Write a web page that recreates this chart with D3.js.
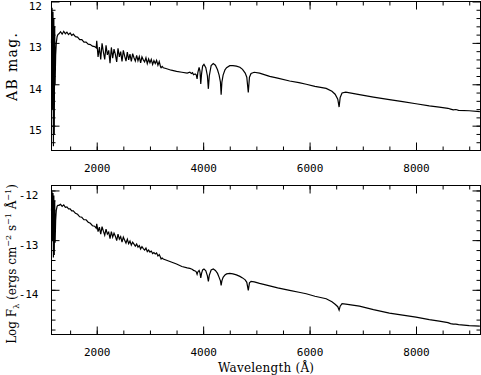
<!DOCTYPE html>
<html lang="en">
<head>
<meta charset="utf-8">
<title>Spectrum: AB mag and Log F_lambda</title>
<script src="https://d3js.org/d3.v7.min.js"></script>
<style>
  body { margin: 0; background: #fff; }
  svg { display: block; }
  .tick text { font-family: "DejaVu Sans Mono", monospace; font-size: 11px; fill: #000; }
  .tick line { stroke: #000; stroke-width: 1; }
  .title { font-family: "DejaVu Serif", serif; font-size: 12px; fill: #000; }
  .spec { fill: none; stroke: #000; stroke-width: 1.2; stroke-linejoin: miter; }
  .frame { fill: none; stroke: #000; stroke-width: 1; }
</style>
</head>
<body>
<svg id="chart" width="481" height="375"></svg>
<script>
// wavelength grid (Angstrom), shared by both panels
const wavelength = [
  1150, 1160, 1170, 1178, 1186, 1194, 1202, 1210, 1218, 1228, 1240, 1255, 1270,
  1290, 1320, 1350, 1380, 1410, 1440, 1470, 1500, 1530, 1560, 1600, 1640, 1680,
  1720, 1760, 1800, 1840, 1880, 1920, 1960, 1990,
  2000, 2025, 2050, 2075, 2100, 2125, 2150, 2175, 2200, 2225, 2250, 2275, 2300,
  2325, 2350, 2375, 2400, 2425, 2450, 2475, 2500, 2525, 2550, 2575, 2600, 2625,
  2650, 2675, 2700, 2725, 2750, 2775, 2800, 2825, 2850, 2875, 2900, 2925, 2950,
  2975, 3000, 3025, 3050, 3075, 3100, 3125, 3150, 3175, 3200,
  3210, 3230, 3250, 3300, 3400, 3500, 3600, 3700, 3750, 3780, 3800, 3820, 3850,
  3870, 3886, 3900, 3924, 3940, 3955, 3970, 3990, 4015, 4050, 4080, 4098, 4115,
  4150, 4190, 4230, 4270, 4300, 4325, 4338, 4352, 4375, 4410, 4440, 4500, 4560,
  4625, 4690, 4740, 4790, 4820, 4848, 4870, 4900, 4960, 5060,
  5250, 5400, 5625, 5800, 5937, 6100, 6312, 6420, 6480, 6530, 6555, 6575, 6610,
  6680, 6937, 7200, 7500, 7750, 8000, 8250, 8437, 8600, 8650, 8700, 8750, 8800,
  9000, 9200
];

// top panel: AB magnitude
const abMag = [
  13.00, 12.15, 14.60, 12.25, 15.50, 12.40, 15.20, 12.60, 14.00, 13.30, 13.00, 12.85, 12.80,
  12.78, 12.73, 12.79, 12.72, 12.78, 12.74, 12.80, 12.76, 12.82, 12.79, 12.85, 12.86, 12.92,
  12.92, 12.98, 12.98, 13.03, 13.04, 13.08, 13.09, 13.12,
  12.95, 13.34, 13.10, 13.40, 13.01, 13.22, 13.40, 13.06, 13.29, 13.18, 13.49, 13.11, 13.37,
  13.15, 13.28, 13.46, 13.13, 13.34, 13.21, 13.45, 13.18, 13.32, 13.44, 13.22, 13.41, 13.27,
  13.45, 13.26, 13.36, 13.44, 13.30, 13.43, 13.33, 13.48, 13.34, 13.41, 13.46, 13.36, 13.50,
  13.39, 13.48, 13.40, 13.52, 13.43, 13.50, 13.42, 13.54, 13.45, 13.58,
  13.60, 13.57, 13.60, 13.62, 13.66, 13.69, 13.71, 13.73, 13.71, 13.74, 13.72, 13.77, 13.75,
  13.77, 13.87, 13.72, 13.59, 13.68, 13.99, 13.75, 13.56, 13.52, 13.60, 13.80, 14.11, 13.80,
  13.55, 13.50, 13.54, 13.65, 13.78, 13.95, 14.25, 13.95, 13.78, 13.65, 13.60, 13.55, 13.55,
  13.56, 13.59, 13.64, 13.73, 13.83, 14.20, 13.83, 13.74, 13.71, 13.73,
  13.81, 13.85, 13.92, 13.96, 14.00, 14.05, 14.10, 14.17, 14.24, 14.36, 14.55, 14.32, 14.21,
  14.19, 14.25, 14.31, 14.37, 14.42, 14.47, 14.52, 14.55, 14.58, 14.60, 14.62, 14.61, 14.63,
  14.64, 14.66
];

// bottom panel: log F_lambda
const logFlux = [
  -12.41, -12.02, -13.00, -12.05, -13.35, -12.10, -13.30, -12.20, -13.05, -12.60, -12.40, -12.32, -12.30,
  -12.30, -12.28, -12.32, -12.29, -12.34, -12.33, -12.37, -12.37, -12.41, -12.41, -12.46, -12.48, -12.53,
  -12.54, -12.59, -12.59, -12.64, -12.66, -12.71, -12.72, -12.76,
  -12.67, -12.83, -12.74, -12.88, -12.73, -12.82, -12.90, -12.78, -12.88, -12.84, -12.97, -12.83, -12.94,
  -12.86, -12.92, -13.01, -12.88, -12.98, -12.93, -13.04, -12.94, -13.00, -13.06, -12.98, -13.07, -13.02,
  -13.10, -13.04, -13.08, -13.12, -13.08, -13.14, -13.11, -13.18, -13.13, -13.17, -13.20, -13.16, -13.23,
  -13.20, -13.24, -13.22, -13.27, -13.25, -13.28, -13.26, -13.32, -13.29, -13.35,
  -13.38, -13.36, -13.38, -13.40, -13.44, -13.48, -13.53, -13.56, -13.57, -13.58, -13.59, -13.61, -13.62,
  -13.64, -13.69, -13.64, -13.61, -13.66, -13.76, -13.67, -13.60, -13.58, -13.62, -13.72, -13.83, -13.71,
  -13.60, -13.58, -13.61, -13.67, -13.75, -13.82, -13.91, -13.82, -13.75, -13.70, -13.68, -13.67, -13.68,
  -13.70, -13.73, -13.76, -13.80, -13.85, -14.01, -13.86, -13.83, -13.84, -13.87,
  -13.92, -13.96, -14.01, -14.05, -14.08, -14.13, -14.18, -14.24, -14.29, -14.34, -14.41, -14.33, -14.28,
  -14.29, -14.33, -14.40, -14.47, -14.51, -14.55, -14.60, -14.63, -14.66, -14.68, -14.69, -14.69, -14.70,
  -14.72, -14.73
];

const xTicks = [2000, 4000, 6000, 8000];
const magTicks = [12, 13, 14, 15];
const fluxTicks = [-12, -13, -14];

const svg = d3.select("#chart");
const left = 51.5, right = 480.5;

const x = d3.scaleLinear().domain([1150, 9212]).range([left, right]);
const xMinor = d3.range(1500, 9201, 500);

function panel(cfg) {
  const y = d3.scaleLinear().domain(cfg.domain).range([cfg.top, cfg.bottom]);
  const g = svg.append("g");

  // minor ticks all round
  g.append("g").attr("transform", `translate(0,${cfg.bottom})`)
    .call(d3.axisBottom(x).tickValues(xMinor).tickSize(-4).tickFormat(""));
  g.append("g").attr("transform", `translate(0,${cfg.top})`)
    .call(d3.axisTop(x).tickValues(xMinor).tickSize(-4).tickFormat(""));
  g.append("g").attr("transform", `translate(${left},0)`)
    .call(d3.axisLeft(y).tickValues(cfg.minor).tickSize(-4).tickFormat(""));
  g.append("g").attr("transform", `translate(${right},0)`)
    .call(d3.axisRight(y).tickValues(cfg.minor).tickSize(-4).tickFormat(""));

  // major ticks
  g.append("g").attr("transform", `translate(0,${cfg.bottom})`)
    .call(d3.axisBottom(x).tickValues(xTicks).tickSize(-8).tickPadding(14).tickFormat(d3.format("d")));
  g.append("g").attr("transform", `translate(0,${cfg.top})`)
    .call(d3.axisTop(x).tickValues(xTicks).tickSize(-8).tickFormat(""));
  g.append("g").attr("transform", `translate(${left},0)`)
    .call(d3.axisLeft(y).tickValues(cfg.ticks).tickSize(-8).tickPadding(cfg.labelPad).tickFormat(d3.format("d")))
    .selectAll("text").attr("dy", "0.72em");
  g.append("g").attr("transform", `translate(${right},0)`)
    .call(d3.axisRight(y).tickValues(cfg.ticks).tickSize(-8).tickFormat(""));

  g.selectAll(".domain").remove();

  g.append("rect").attr("class", "frame")
    .attr("x", left).attr("y", cfg.top)
    .attr("width", right - left).attr("height", cfg.bottom - cfg.top);

  const line = d3.line()
    .x((d, i) => x(wavelength[i]))
    .y(d => y(d));

  g.append("path").attr("class", "spec").attr("d", line(cfg.values));
  return y;
}

panel({
  domain: [12, 15.6], top: 1.5, bottom: 150.5,
  ticks: magTicks, minor: d3.range(12.2, 15.6, 0.2),
  labelPad: 9.5, values: abMag
});

panel({
  domain: [-11.9, -14.9], top: 185.5, bottom: 334.5,
  ticks: fluxTicks, minor: d3.range(-14.8, -11.9, 0.2),
  labelPad: 13, values: logFlux
});

// use plain hyphen for negative labels, like the original
svg.selectAll(".tick text").text(function() { return this.textContent.replace("−", "-"); });

// axis titles
svg.append("text").attr("class", "title")
  .attr("transform", "translate(17,67) rotate(-90)")
  .attr("text-anchor", "middle")
  .style("font-size", "14px")
  .attr("textLength", 68)
  .text("AB mag.");

const yt = svg.append("text").attr("class", "title")
  .attr("transform", "translate(16,264) rotate(-90)")
  .attr("text-anchor", "middle");
yt.append("tspan").text("Log F");
yt.append("tspan").attr("font-size", "8px").attr("dy", 3).text("λ");
yt.append("tspan").attr("dy", -3).text(" (ergs cm");
yt.append("tspan").attr("font-size", "8px").attr("dy", -5).text("−2");
yt.append("tspan").attr("dy", 5).text(" s");
yt.append("tspan").attr("font-size", "8px").attr("dy", -5).text("−1");
yt.append("tspan").attr("dy", 5).text(" Å");
yt.append("tspan").attr("font-size", "8px").attr("dy", -5).text("−1");
yt.append("tspan").attr("dy", 5).text(")");

svg.append("text").attr("class", "title")
  .attr("x", 266).attr("y", 372)
  .attr("text-anchor", "middle")
  .attr("textLength", 96)
  .text("Wavelength (Å)");
</script>
</body>
</html>
